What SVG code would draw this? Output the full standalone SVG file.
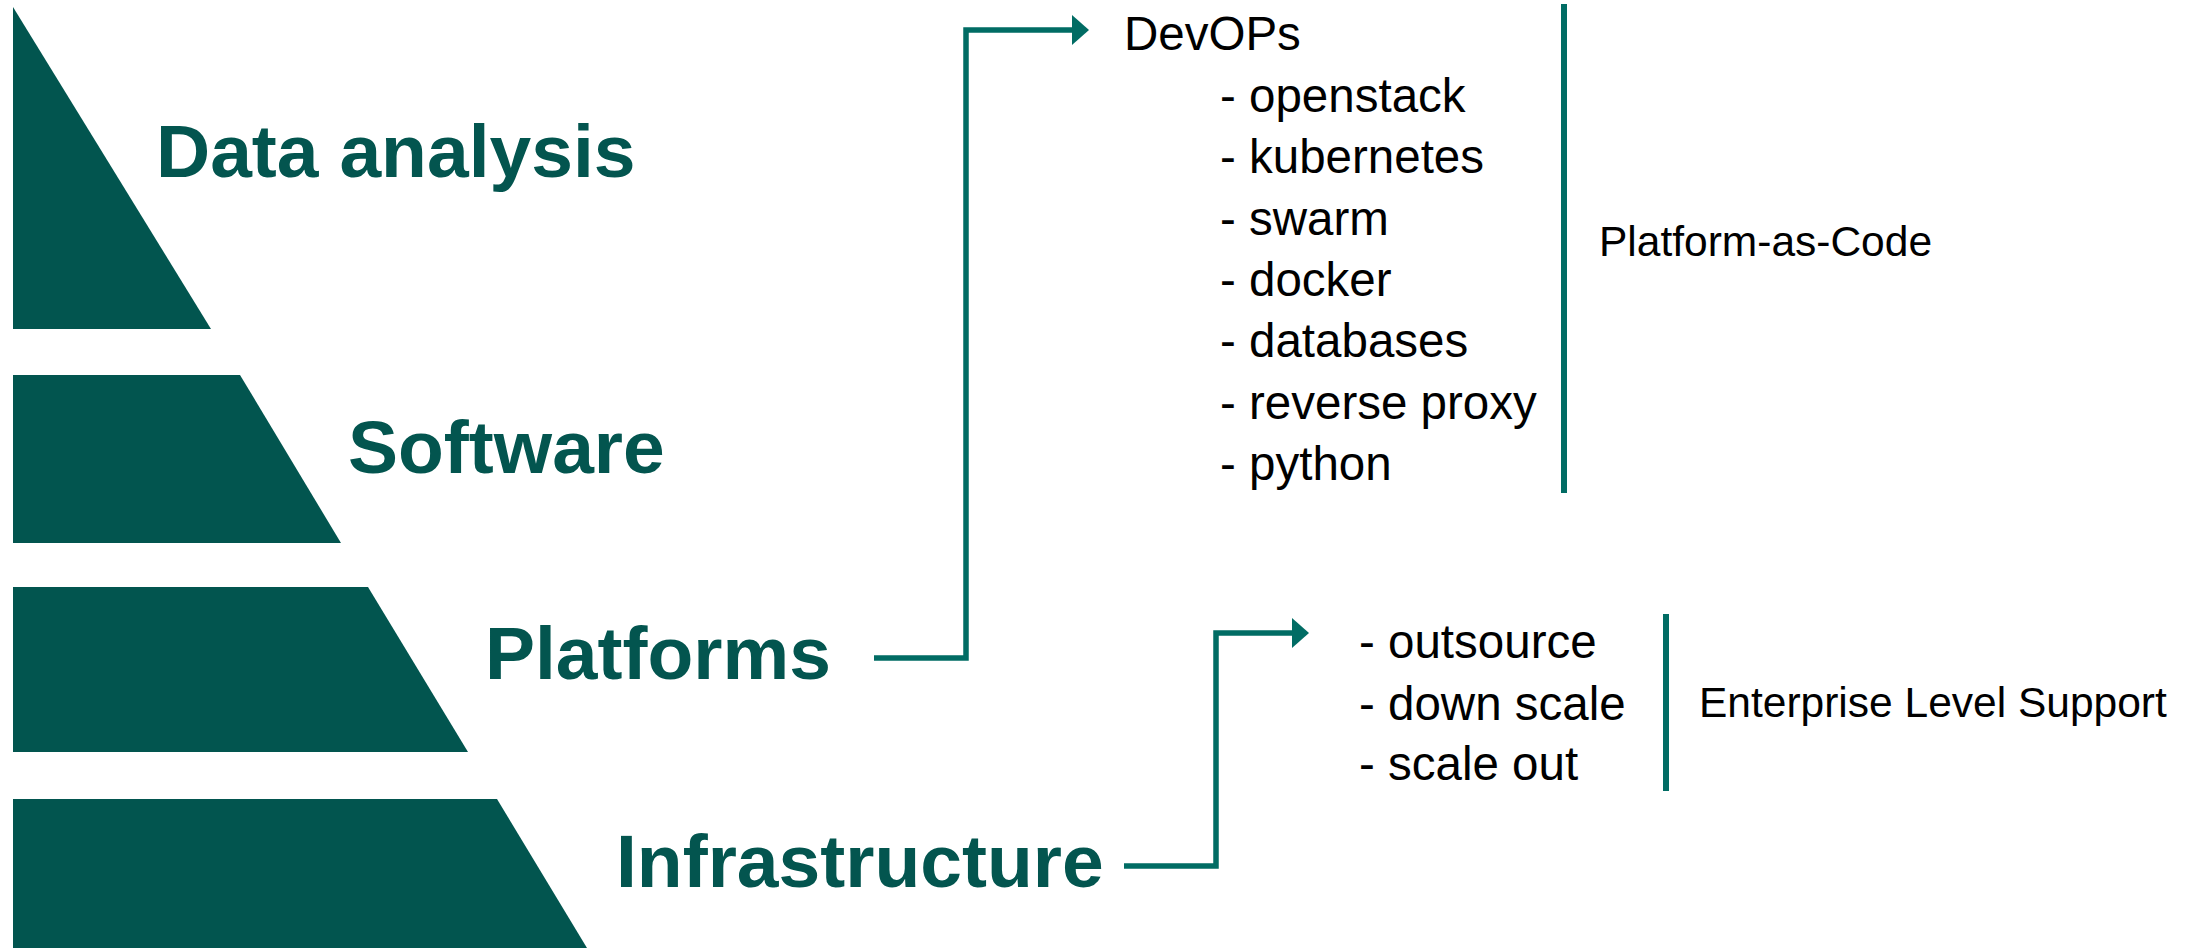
<svg xmlns="http://www.w3.org/2000/svg" width="2189" height="948" viewBox="0 0 2189 948">
  <style>
    .tier { fill: #02554f; }
    .tier-label { font-family: "Liberation Sans", Arial, sans-serif; font-weight: bold; font-size: 75px; fill: #03554f; }
    .item { font-family: "Liberation Sans", Arial, sans-serif; font-size: 47.5px; fill: #000000; }
    .note { font-family: "Liberation Sans", Arial, sans-serif; font-size: 42.5px; fill: #000000; }
    .link { fill: none; stroke: #016c64; stroke-width: 5.5; stroke-linejoin: miter; }
    .bar { stroke: #016c64; stroke-width: 6; }
  </style>
  <defs>
    <marker id="arrow" markerUnits="userSpaceOnUse" viewBox="0 0 17 30" markerWidth="17" markerHeight="30" refX="0" refY="15" orient="auto">
      <polygon points="0,0 17,15 0,30" fill="#016c64"/>
    </marker>
  </defs>

  <!-- pyramid tiers -->
  <g id="tier-data-analysis">
    <polygon class="tier" points="13,7 211,329 13,329"/>
    <text class="tier-label" x="156" y="177">Data analysis</text>
  </g>
  <g id="tier-software">
    <polygon class="tier" points="13,375 240,375 341,543 13,543"/>
    <text class="tier-label" x="348" y="473">Software</text>
  </g>
  <g id="tier-platforms">
    <polygon class="tier" points="13,587 368,587 468,752 13,752"/>
    <text class="tier-label" x="485" y="679">Platforms</text>
  </g>
  <g id="tier-infrastructure">
    <polygon class="tier" points="13,799 497,799 587,948 13,948"/>
    <text class="tier-label" x="616" y="887">Infrastructure</text>
  </g>

  <!-- connectors -->
  <g id="connectors">
    <path class="link" d="M874,658 H966 V30 H1072" marker-end="url(#arrow)"/>
    <path class="link" d="M1124,866 H1216 V633 H1292" marker-end="url(#arrow)"/>
  </g>

  <!-- DevOps list -->
  <g id="devops">
    <text class="item" x="1124" y="50">DevOPs</text>
    <text class="item" x="1220" y="112">- openstack</text>
    <text class="item" x="1220" y="173">- kubernetes</text>
    <text class="item" x="1220" y="235">- swarm</text>
    <text class="item" x="1220" y="296">- docker</text>
    <text class="item" x="1220" y="357">- databases</text>
    <text class="item" x="1220" y="419">- reverse proxy</text>
    <text class="item" x="1220" y="480">- python</text>
    <line class="bar" x1="1564" y1="4" x2="1564" y2="493"/>
    <text class="note" x="1599" y="256">Platform-as-Code</text>
  </g>

  <!-- support list -->
  <g id="support">
    <text class="item" x="1359" y="658">- outsource</text>
    <text class="item" x="1359" y="720">- down scale</text>
    <text class="item" x="1359" y="780">- scale out</text>
    <line class="bar" x1="1666" y1="614" x2="1666" y2="791"/>
    <text class="note" x="1699" y="717">Enterprise Level Support</text>
  </g>
</svg>
